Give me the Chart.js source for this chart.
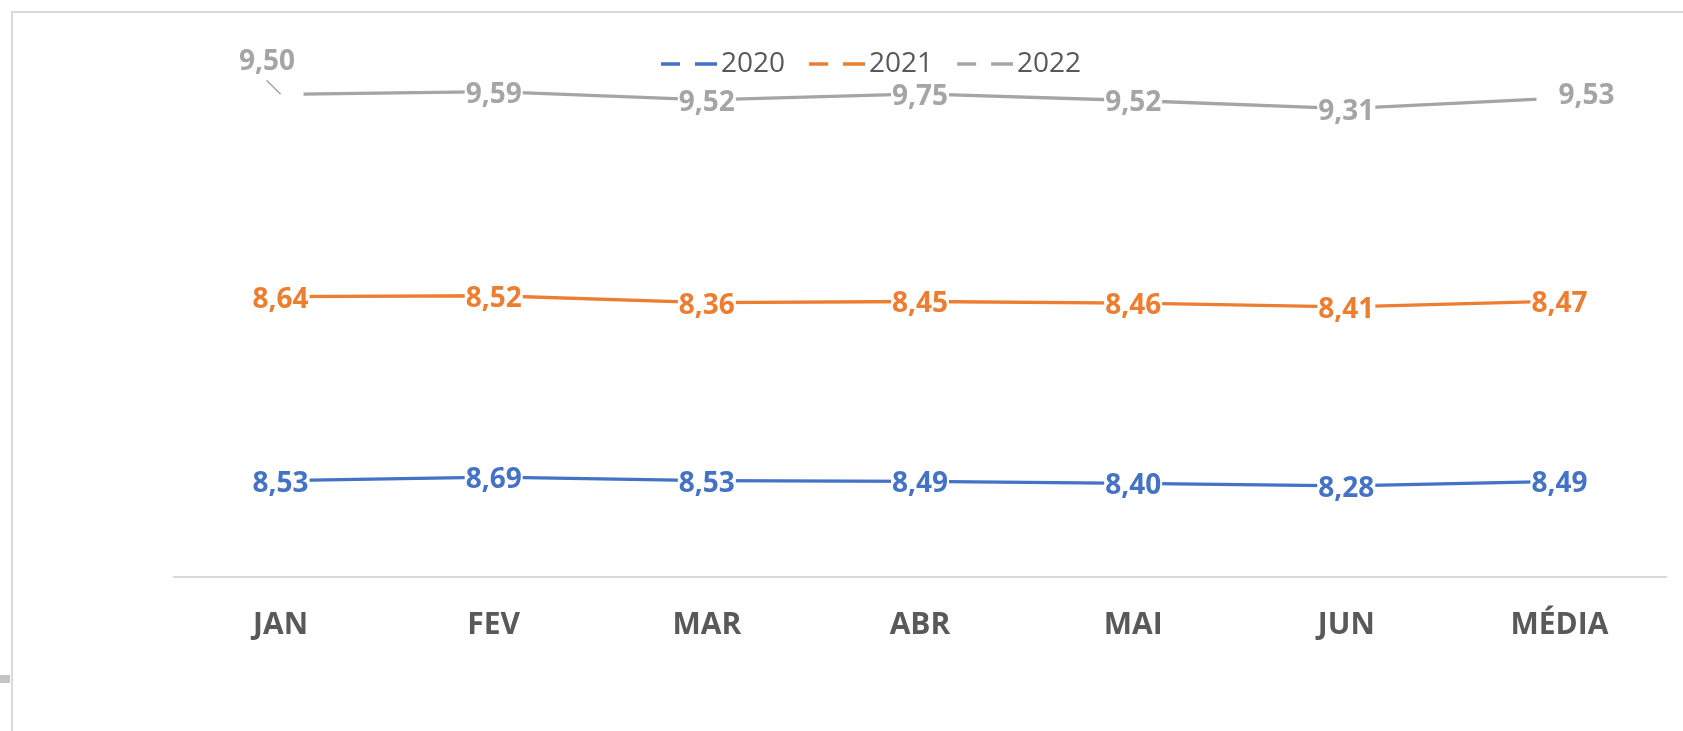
<!DOCTYPE html>
<html><head><meta charset="utf-8">
<script src="https://cdn.jsdelivr.net/npm/chart.js@4.4.1/dist/chart.umd.min.js"></script>
<style>
html,body{margin:0;padding:0;background:#fff;overflow:hidden}
#wrap{position:relative;width:1683px;height:731px;overflow:hidden}
#frame{position:absolute;left:11px;top:11px;width:1700px;height:740px;border-left:2px solid #d9d9d9;border-top:2px solid #d9d9d9}
#mark{position:absolute;left:0;top:675px;width:10px;height:8px;background:#c4c4c4}
canvas{position:absolute;left:0;top:0}
</style></head><body>
<div id="wrap"><div id="frame"></div><div id="mark"></div><canvas id="c" width="1683" height="731"></canvas></div>
<script>
const categories = ['JAN','FEV','MAR','ABR','MAI','JUN','MÉDIA'];
const seriesNames = ['2020','2021','2022'];
const values2020 = [8.53, 8.69, 8.53, 8.49, 8.40, 8.28, 8.49];
const values2021 = [8.64, 8.52, 8.36, 8.45, 8.46, 8.41, 8.47];
const values2022 = [9.50, 9.59, 9.52, 9.75, 9.52, 9.31, 9.53];
const seriesColors = ['#4472C4', '#ED7D31', '#A5A5A5'];
const yMin = 4, yMax = 28;

const seriesValues = [values2020, values2021, values2022];
const fmt = v => v.toFixed(2).replace('.', ',');

function dashImg(color) {
  const c = document.createElement('canvas');
  c.width = 80; c.height = 8;
  const g = c.getContext('2d');
  g.strokeStyle = color; g.lineWidth = 3.5;
  g.setLineDash([19, 15, 22]);
  g.beginPath(); g.moveTo(24, 4); g.lineTo(80, 4); g.stroke();
  return c;
}

const labelPlugin = {
  id: 'valueLabels',
  afterLayout(chart) {
    const lg = chart.legend;
    if (!lg || !lg.lineWidths) return;
    const pad = lg.options.labels.padding;
    const x0 = (lg.left + pad + lg.right - lg.lineWidths[0]) / 2;
    const dx = 647 - x0;
    lg.left += dx; lg.right += dx;
    lg.top += 22; lg.bottom += 22;
  },
  afterDatasetsDraw(chart) {
    const ctx = chart.ctx;
    ctx.save();
    ctx.font = 'bold 28px "Open Sans"';
    ctx.textAlign = 'center';
    ctx.textBaseline = 'alphabetic';
    chart.data.datasets.forEach((ds, di) => {
      const meta = chart.getDatasetMeta(di);
      const vals = seriesValues[di];
      meta.data.forEach((pt, i) => {
        const txt = fmt(vals[i]);
        const w = ctx.measureText(txt).width;
        const last = i === vals.length - 1;
        if (di === 2 && (i === 0 || last)) {
          ctx.fillStyle = '#fff';
          if (i === 0) ctx.fillRect(pt.x - 2, pt.y - 5, 25, 10);
          else ctx.fillRect(pt.x - 23, pt.y - 5, 25, 10);
          ctx.fillStyle = ds.borderColor;
          if (i === 0) {
            ctx.fillText(txt, pt.x - 13.5, pt.y - 24);
            ctx.strokeStyle = ds.borderColor; ctx.lineWidth = 1.5;
            ctx.beginPath(); ctx.moveTo(pt.x - 14, pt.y - 14); ctx.lineTo(pt.x, pt.y); ctx.stroke();
          } else {
            ctx.fillText(txt, pt.x + 27, pt.y + 6);
          }
          return;
        }
        const by = pt.y + 11;
        ctx.fillStyle = '#fff';
        ctx.fillRect(pt.x - w / 2 - 1, by - 22, w + 2, 27);
        ctx.fillStyle = ds.borderColor;
        ctx.fillText(txt, pt.x, by);
      });
    });
    ctx.restore();
  }
};

new Chart(document.getElementById('c'), {
  type: 'line',
  data: {
    labels: categories,
    datasets: seriesNames.map((name, i) => ({
      label: name,
      data: seriesValues[i],
      borderColor: seriesColors[i],
      backgroundColor: seriesColors[i],
      borderWidth: 3.3,
      pointRadius: 0,
      pointHoverRadius: 0,
      tension: 0,
      fill: false
    }))
  },
  options: {
    responsive: false,
    animation: false,
    layout: { padding: { left: 174, right: 17, top: 18, bottom: 58 } },
    plugins: {
      tooltip: { enabled: false },
      legend: {
        position: 'top',
        labels: {
          usePointStyle: true,
          pointStyleWidth: 60,
          padding: 10,
          color: '#595959',
          font: { family: 'Open Sans', size: 28 },
          generateLabels(chart) {
            return chart.data.datasets.map((ds, i) => ({
              text: ds.label,
              pointStyle: dashImg(ds.borderColor),
              fillStyle: ds.borderColor,
              strokeStyle: ds.borderColor,
              lineWidth: 0,
              hidden: false,
              datasetIndex: i,
              fontColor: '#595959'
            }));
          }
        }
      }
    },
    scales: {
      x: {
        offset: true,
        grid: { display: false, drawTicks: false },
        border: { display: true, color: '#d9d9d9', width: 2 },
        ticks: {
          padding: 30,
          autoSkip: false,
          maxRotation: 0,
          color: '#595959',
          font: { family: 'Open Sans', size: 30, weight: 'bold' }
        }
      },
      y: {
        display: false,
        stacked: true,
        min: yMin,
        max: yMax
      }
    }
  },
  plugins: [labelPlugin]
});
</script>
</body></html>
